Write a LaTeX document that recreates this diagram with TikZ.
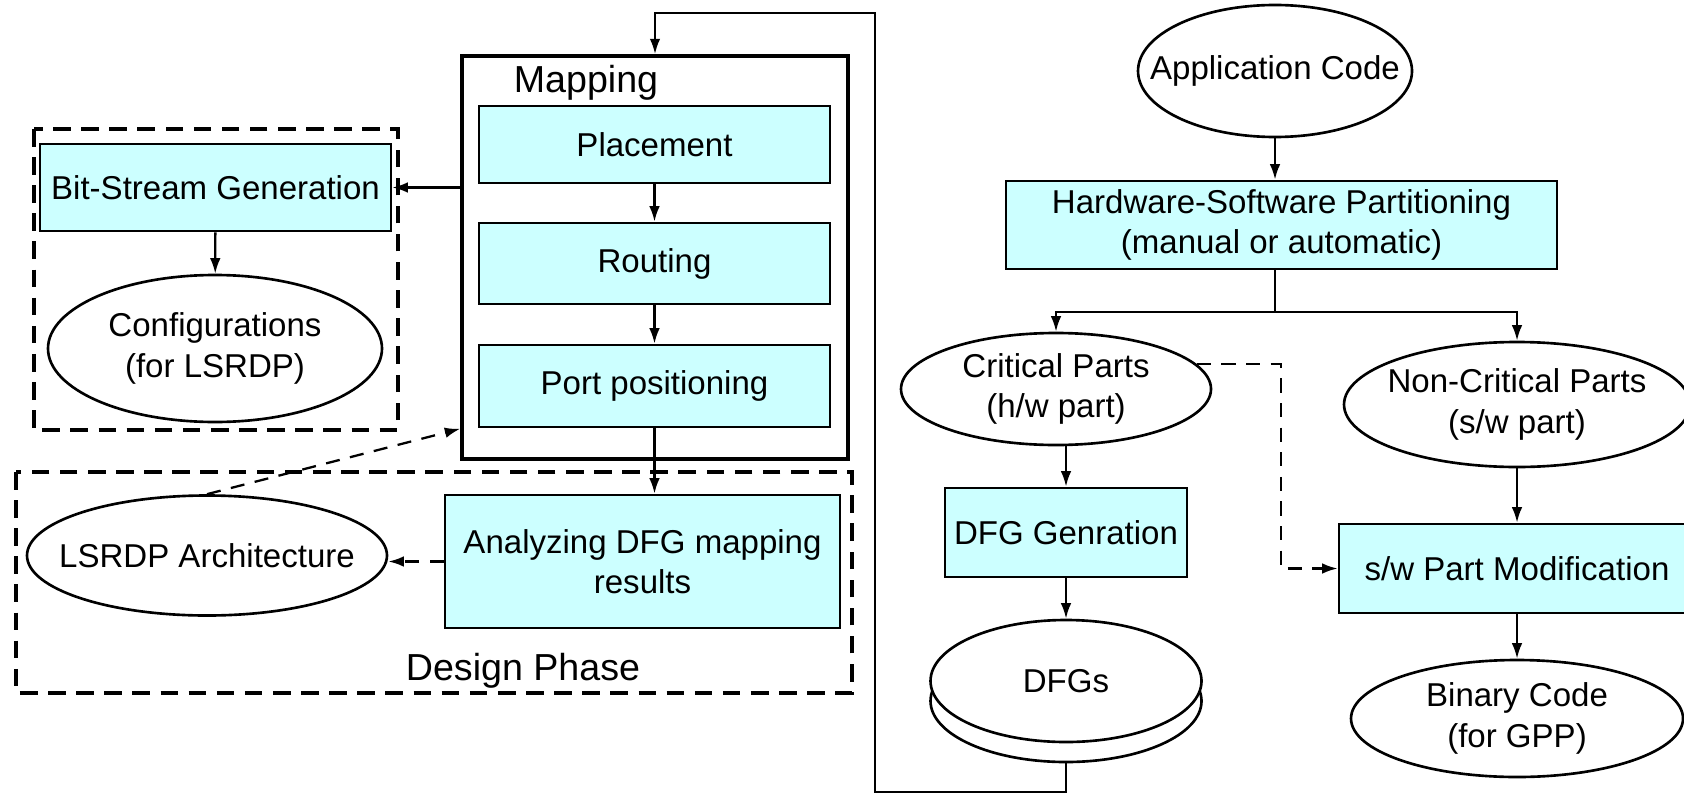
\documentclass[tikz,border=0pt]{standalone}
\usepackage{fontspec}
\setmainfont{Liberation Sans}
\usetikzlibrary{positioning,shapes.geometric,arrows.meta}

\definecolor{hwcyan}{RGB}{204,255,255}

\begin{document}
\begin{tikzpicture}[font=\fontsize{9.4}{11.5}\selectfont,
  box/.style={draw,line width=0.75pt,fill=hwcyan,align=center,inner sep=0pt},
  oval/.style={draw,ellipse,line width=0.75pt,fill=white,align=center,inner sep=-0.6cm},
  group/.style={draw,line width=0.95pt,dash pattern=on 5pt off 3pt},
  link/.style={line width=0.65pt,->},
  dlink/.style={link,dash pattern=on 4pt off 3pt},
  >={Latex[length=4.4pt,width=3pt]}]

\useasboundingbox (0,0) rectangle (16.84,-7.94);

% left part: design phase
\node[draw,line width=1pt,minimum width=3.86cm,minimum height=4.03cm,inner sep=0pt](map) at (6.55,-2.575) {};
\node[anchor=base,font=\fontsize{10.7}{12}\selectfont](maplbl) at (5.86,-0.93) {Mapping};
\node[box,minimum width=3.51cm,minimum height=0.77cm](place) at (6.545,-1.445) {Placement};
\node[box,minimum width=3.51cm,minimum height=0.81cm](route) at (6.545,-2.635) {Routing};
\node[box,minimum width=3.51cm,minimum height=0.82cm](port) at (6.545,-3.86) {Port positioning};

\draw[group] (0.34,-1.29) rectangle (3.98,-4.30);
\node[box,minimum width=3.51cm,minimum height=0.87cm](bit) at (2.155,-1.875) {Bit-Stream Generation};
\node[oval,minimum width=3.34cm,minimum height=1.47cm](conf) at (2.15,-3.485) {Configurations\\(for LSRDP)};

\draw[group] (0.16,-4.72) rectangle (8.52,-6.93);
\node[oval,minimum width=3.6cm,minimum height=1.2cm](arch) at (2.07,-5.555) {LSRDP Architecture};
\node[box,minimum width=3.95cm,minimum height=1.33cm](ana) at (6.425,-5.615) {Analyzing DFG mapping\\results};
\node[anchor=base,font=\fontsize{10.7}{12}\selectfont](phase) at (5.23,-6.80) {Design Phase};

% right part: partitioning
\node[oval,minimum width=2.74cm,minimum height=1.32cm](app) at (12.75,-0.71) {Application Code};
\node[box,minimum width=5.51cm,minimum height=0.88cm](hw) at (12.815,-2.25) {Hardware-Software Partitioning\\(manual or automatic)};
\node[oval,minimum width=3.10cm,minimum height=1.12cm](crit) at (10.56,-3.89) {Critical Parts\\(h/w part)};
\node[oval,minimum width=3.46cm,minimum height=1.25cm](noncrit) at (15.17,-4.045) {Non-Critical Parts\\(s/w part)};
\node[box,minimum width=2.42cm,minimum height=0.89cm](dfg) at (10.66,-5.325) {DFG Genration};
\node[box,minimum width=3.56cm,minimum height=0.89cm](sw) at (15.17,-5.685) {s/w Part Modification};
\node[oval,minimum width=2.71cm,minimum height=1.22cm](dfgs2) at (10.66,-7.01) {};
\node[oval,minimum width=2.71cm,minimum height=1.22cm](dfgs) at (10.66,-6.81) {DFGs};
\node[oval,minimum width=3.32cm,minimum height=1.17cm](bin) at (15.17,-7.185) {Binary Code\\(for GPP)};

\coordinate (split) at (12.75,-3.12);
\coordinate (turn) at (12.81,0);
\coordinate (low) at (8.75,-7.92);
\coordinate (high) at (8.75,-0.13);

% connectors
\draw[link] (map.west |- bit.east) -- (bit.east);
\draw[link] (bit) -- (conf);
\foreach \a/\b in {place/route,route/port}
  \draw[link] (\a) -- (\b);
\draw[link] (port.south) -- (port.south |- ana.north);
\draw[dlink] (ana.west) -- (ana.west -| arch.east);
\draw[dlink] (arch.north) -- ([yshift=0.32cm]map.south west);

\draw[link] (app.south) -- (app.south |- hw.north);
\draw[line width=0.65pt] (app.south |- hw.south) -- (split);
\draw[link] (split) -| (crit.north);
\draw[link] (split) -| (noncrit.north);
\draw[link] (crit.south -| dfg.north) -- (dfg.north);
\draw[link] (dfg) -- (dfgs);
\draw[link] (noncrit) -- (sw);
\draw[link] (sw) -- (bin);
\draw[dlink] (crit.10) -- (crit.10 -| turn) |- (sw.west);

\draw[link] (dfgs2.south) -- (dfgs2.south |- low) -- (low) -- (high) -| (map.north);

\end{tikzpicture}
\end{document}
